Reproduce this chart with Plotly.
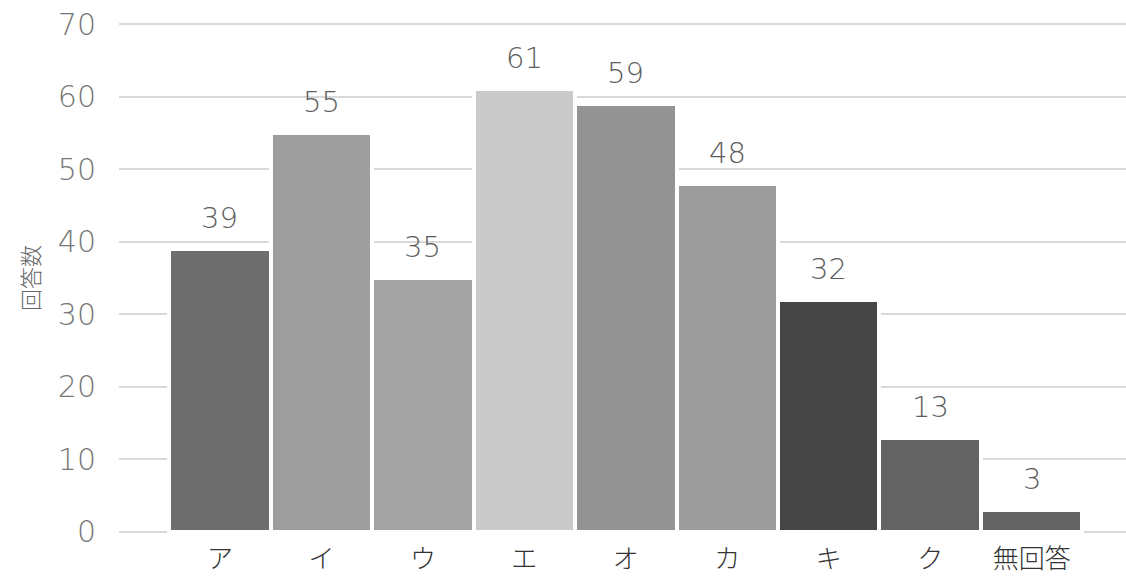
import plotly.graph_objects as go

# 回答の集計
categories = ["ア", "イ", "ウ", "エ", "オ", "カ", "キ", "ク", "無回答"]
counts = [39, 55, 35, 61, 59, 48, 32, 13, 3]
bar_colors = ["#6e6e6e", "#9e9e9e", "#a3a3a3", "#cacaca", "#939393",
              "#9c9c9c", "#464646", "#636363", "#636363"]
y_ticks = [0, 10, 20, 30, 40, 50, 60, 70]

num_font = "DejaVu Sans"
jp_font = "Noto Sans CJK JP"

fig = go.Figure(
    go.Bar(
        x=list(range(len(categories))),
        y=counts,
        marker=dict(color=bar_colors, line=dict(color="white", width=4)),
        width=1.0,
        hoverinfo="skip",
    )
)

# 棒の上に値を表示
for i, v in enumerate(counts):
    fig.add_annotation(
        x=i, y=v, text=str(v), showarrow=False,
        yanchor="bottom", yshift=12,
        font=dict(family=num_font, size=29, color="#5e5e5e", weight=300),
    )

fig.update_layout(
    width=1126, height=578,
    margin=dict(l=119, r=0, t=22, b=44),
    paper_bgcolor="white", plot_bgcolor="white",
    bargap=0, showlegend=False,
    xaxis=dict(
        range=[-0.995, 8.93],
        tickmode="array",
        tickvals=list(range(len(categories))),
        ticktext=categories,
        tickfont=dict(family=jp_font, size=26, color="#333333", weight=300),
        showgrid=False, zeroline=False, showline=False,
        ticks="", ticklabelstandoff=7, automargin=False,
    ),
    yaxis=dict(
        range=[-0.3, 70.3],
        tickvals=y_ticks,
        tickfont=dict(family=num_font, size=30, color="#777777", weight=300),
        showgrid=True, gridcolor="#d9d9d9", gridwidth=2,
        zeroline=False, showline=False,
        ticks="", ticklabelstandoff=22, automargin=False,
        title=dict(text="回答数", standoff=12,
                   font=dict(family=jp_font, size=22, color="#666666", weight=300)),
    ),
)

fig.write_html("out.html")
